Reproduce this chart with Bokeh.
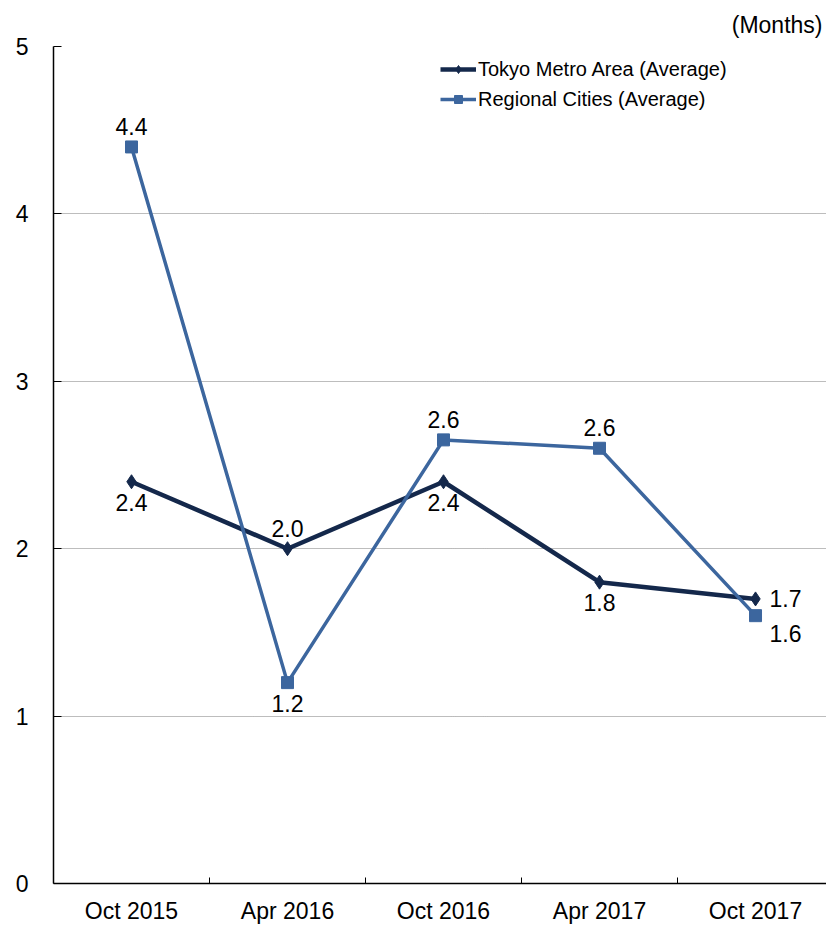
import numpy as np
from bokeh.plotting import figure
from bokeh.models import (Range1d, FixedTicker, Legend, LegendItem, ColumnDataSource,
                          LabelSet, Title)
from bokeh.core.properties import value
from bokeh.embed import file_html
from bokeh.resources import INLINE

categories = ["Oct 2015", "Apr 2016", "Oct 2016", "Apr 2017", "Oct 2017"]
tokyo = [2.4, 2.0, 2.4, 1.8, 1.7]
regional = [4.4, 1.2, 2.65, 2.6, 1.6]
tokyo_labels = ["2.4", "2.0", "2.4", "1.8", "1.7"]
regional_labels = ["4.4", "1.2", "2.6", "2.6", "1.6"]
tokyo_place = ["below", "above", "below", "below", "right"]
regional_place = ["above", "below", "above", "above", "rightbelow"]
y_ticks = [0, 1, 2, 3, 4, 5]

FONT = "Liberation Sans"
C_TOKYO = "#14284B"
C_REG = "#3C669E"

xs = np.arange(len(categories)) + 0.5

p = figure(width=826, height=926, output_backend="svg", toolbar_location=None,
           x_range=Range1d(0, 4.955), y_range=Range1d(0, 5),
           min_border_left=53, min_border_right=0, min_border_top=46, min_border_bottom=42)
p.outline_line_color = None
p.background_fill_color = "white"

t = Title(text="(Months)", align="right", text_font=FONT, text_font_size="23px",
          text_font_style="normal", text_color="#000000", standoff=18, offset=4)
p.add_layout(t, "above")

# axes
p.xaxis.ticker = FixedTicker(ticks=list(xs), minor_ticks=[1, 2, 3, 4])
p.xaxis.major_label_overrides = {float(x): c for x, c in zip(xs, categories)}
p.xaxis.major_tick_in = 0
p.xaxis.major_tick_out = 0
p.xaxis.minor_tick_in = 6
p.xaxis.minor_tick_out = 0
p.xaxis.minor_tick_line_color = "black"
p.xaxis.axis_line_color = "black"
p.xaxis.axis_line_width = 1.5
p.xaxis.major_label_standoff = 14
p.xaxis.major_label_text_font = FONT
p.xaxis.major_label_text_font_size = "23px"
p.xaxis.major_label_text_color = "black"

p.yaxis.ticker = FixedTicker(ticks=y_ticks, minor_ticks=[])
p.yaxis.major_tick_in = 8
p.yaxis.major_tick_out = 0
p.yaxis.major_tick_line_color = "black"
p.yaxis.axis_line_color = "black"
p.yaxis.axis_line_width = 1.5
p.yaxis.major_label_standoff = 25
p.yaxis.major_label_text_font = FONT
p.yaxis.major_label_text_font_size = "23px"
p.yaxis.major_label_text_color = "black"

p.xgrid.grid_line_color = None
p.ygrid.ticker = FixedTicker(ticks=[1, 2, 3, 4, 5])
p.ygrid.grid_line_color = "#7a7a7a"
p.ygrid.grid_line_dash = "1 1"
p.ygrid.grid_line_width = 1

src_t = ColumnDataSource(dict(x=xs, y=tokyo, lab=tokyo_labels))
src_r = ColumnDataSource(dict(x=xs, y=regional, lab=regional_labels))

lt = p.line("x", "y", source=src_t, line_color=C_TOKYO, line_width=4.5)
mt = p.scatter("x", "y", source=src_t, marker="diamond", size=14, fill_color=C_TOKYO,
               line_color=C_TOKYO)
lr = p.line("x", "y", source=src_r, line_color=C_REG, line_width=3.5)
mr = p.scatter("x", "y", source=src_r, marker="square", size=12, fill_color=C_REG,
               line_color=C_REG)

def add_labels(vals, labs, places):
    offs = {"above": (0, 12, "center", "bottom"),
            "below": (0, -12, "center", "top"),
            "right": (14, 0, "left", "middle"),
            "rightbelow": (14, -9, "left", "top")}
    for place in sorted(set(places)):
        idx = [i for i, pl in enumerate(places) if pl == place]
        dx, dy, al, bl = offs[place]
        s = ColumnDataSource(dict(x=[xs[i] for i in idx], y=[vals[i] for i in idx],
                                  lab=[labs[i] for i in idx]))
        p.add_layout(LabelSet(x="x", y="y", text="lab", source=s, x_offset=dx, y_offset=dy,
                              text_align=value(al), text_baseline=value(bl),
                              text_font=value(FONT), text_font_size=value("23px"),
                              text_color=value("black")))

add_labels(tokyo, tokyo_labels, tokyo_place)
add_labels(regional, regional_labels, regional_place)

legend = Legend(items=[LegendItem(label="Tokyo Metro Area (Average)", renderers=[lt, mt]),
                       LegendItem(label="Regional Cities (Average)", renderers=[lr, mr])],
                location=(387, 769), orientation="vertical",
                label_text_font=FONT, label_text_font_size="20px", label_text_color="black",
                glyph_width=36, glyph_height=20, label_height=30, label_standoff=2,
                spacing=0, padding=0, margin=0, border_line_color=None,
                background_fill_alpha=0)
p.add_layout(legend, "center")

open("out.html", "w").write(file_html(p, INLINE))
